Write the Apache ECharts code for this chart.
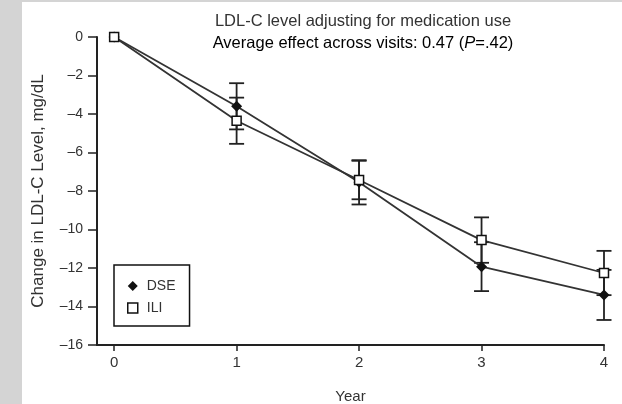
<!DOCTYPE html>
<html>
<head>
<meta charset="utf-8">
<script src="https://cdn.jsdelivr.net/npm/echarts@6/dist/echarts.min.js"></script>
<style>
  html, body { margin: 0; padding: 0; background: #fff; }
  #chart { width: 622px; height: 404px; }
</style>
</head>
<body>
<div id="chart"></div>
<script>
// values
var years = [0, 1, 2, 3, 4];
var xTicks = [0, 1, 2, 3, 4];
var yTicks = [0, -2, -4, -6, -8, -10, -12, -14, -16];
var dse = [0, -3.6, -7.55, -11.93, -13.4];
var dseErr = [0, 1.2, 1.15, 1.27, 1.3];
var ili = [0, -4.35, -7.43, -10.55, -12.26];
var iliErr = [0, 1.2, 1.0, 1.18, 1.15];

var FONT = '"Liberation Sans", Arial, sans-serif';
var INK = '#222';

function pairs(xs, ys) {
  return xs.map(function (x, i) { return [x, ys[i]]; });
}

function errData(xs, ys, es) {
  return xs.map(function (x, i) { return [x, ys[i] + es[i], ys[i] - es[i]]; });
}

// vertical whisker with caps
function renderErr(params, api) {
  var hi = api.coord([api.value(0), api.value(1)]);
  var lo = api.coord([api.value(0), api.value(2)]);
  if (Math.abs(lo[1] - hi[1]) < 1) {
    return;
  }
  var w = 7.5;
  var st = { stroke: INK, lineWidth: 1.8 };
  return {
    type: 'group',
    children: [
      { type: 'line', shape: { x1: hi[0], y1: hi[1], x2: lo[0], y2: lo[1] }, style: st },
      { type: 'line', shape: { x1: hi[0] - w, y1: hi[1], x2: hi[0] + w, y2: hi[1] }, style: st },
      { type: 'line', shape: { x1: lo[0] - w, y1: lo[1], x2: lo[0] + w, y2: lo[1] }, style: st }
    ]
  };
}

var chart = echarts.init(document.getElementById('chart'), null, { renderer: 'canvas' });

var option = {
  animation: false,
  backgroundColor: '#fff',
  textStyle: { fontFamily: FONT, color: '#333' },
  grid: { left: 97, right: 18, top: 37, bottom: 59, containLabel: false, outerBoundsMode: 'none' },
  graphic: [
    { type: 'rect', left: 0, top: 0, shape: { width: 22, height: 404 }, style: { fill: '#d4d4d4' }, silent: true },
    { type: 'rect', left: 0, top: 0, shape: { width: 622, height: 2 }, style: { fill: '#d4d4d4' }, silent: true },
    {
      type: 'text', x: 363, y: 21, silent: true,
      style: {
        text: 'LDL-C level adjusting for medication use',
        align: 'center', verticalAlign: 'middle',
        font: '16.5px ' + FONT, fill: '#333'
      }
    },
    {
      type: 'text', x: 363, y: 43, silent: true,
      style: {
        text: '{a|Average effect across visits: 0.47 (}{i|P}{a|=.42)}',
        align: 'center', verticalAlign: 'middle',
        rich: {
          a: { fontSize: 16.5, fontFamily: FONT, color: '#333' },
          i: { fontSize: 16.5, fontFamily: FONT, fontStyle: 'italic', color: '#333' }
        }
      }
    }
  ],
  legend: {
    orient: 'vertical',
    left: 114,
    top: 265,
    padding: [14, 14, 11, 13],
    itemGap: 8,
    itemWidth: 10,
    itemHeight: 10,
    borderColor: '#111',
    borderWidth: 1.5,
    textStyle: { fontSize: 14, fontFamily: FONT, color: '#333', padding: [0, 0, 0, 4] },
    data: [
      { name: 'DSE', icon: 'diamond' },
      { name: 'ILI', icon: 'rect', itemStyle: { color: '#fff', borderColor: '#111', borderWidth: 1.5 } }
    ]
  },
  xAxis: {
    type: 'value',
    min: -0.14,
    max: 4,
    name: 'Year',
    nameLocation: 'middle',
    nameGap: 44,
    nameMoveOverlap: false,
    nameTextStyle: { fontSize: 15, color: '#333' },
    axisLine: { show: true, onZero: false, lineStyle: { color: INK, width: 2 } },
    axisTick: { show: true, length: 6, customValues: xTicks, lineStyle: { color: INK, width: 1.5 } },
    axisLabel: { customValues: xTicks, margin: 10, fontSize: 15, color: '#333' },
    splitLine: { show: false }
  },
  yAxis: {
    type: 'value',
    min: -16,
    max: 0,
    interval: 2,
    name: 'Change in LDL-C Level, mg/dL',
    nameLocation: 'middle',
    nameGap: 50,
    nameMoveOverlap: false,
    nameTextStyle: { fontSize: 17, color: '#333' },
    axisLine: { show: true, onZero: false, lineStyle: { color: INK, width: 2 } },
    axisTick: { show: true, length: 9, lineStyle: { color: INK, width: 1.5 } },
    axisLabel: {
      margin: 14, fontSize: 14, color: '#333',
      formatter: function (v) { return String(v).replace('-', '\u2013'); }
    },
    splitLine: { show: false }
  },
  series: [
    {
      type: 'custom', name: 'dseErr', z: 1,
      renderItem: renderErr,
      encode: { x: 0, y: [1, 2] },
      data: errData(years, dse, dseErr)
    },
    {
      type: 'custom', name: 'iliErr', z: 1,
      renderItem: renderErr,
      encode: { x: 0, y: [1, 2] },
      data: errData(years, ili, iliErr)
    },
    {
      name: 'DSE', type: 'line', z: 3,
      symbol: 'diamond', symbolSize: 11,
      itemStyle: { color: '#111' },
      lineStyle: { color: '#333', width: 1.8 },
      data: pairs(years, dse)
    },
    {
      name: 'ILI', type: 'line', z: 4,
      symbol: 'rect', symbolSize: 9,
      itemStyle: { color: '#fff', borderColor: '#111', borderWidth: 1.5 },
      lineStyle: { color: '#333', width: 1.8 },
      data: pairs(years, ili)
    }
  ]
};

chart.setOption(option);
</script>
</body>
</html>
